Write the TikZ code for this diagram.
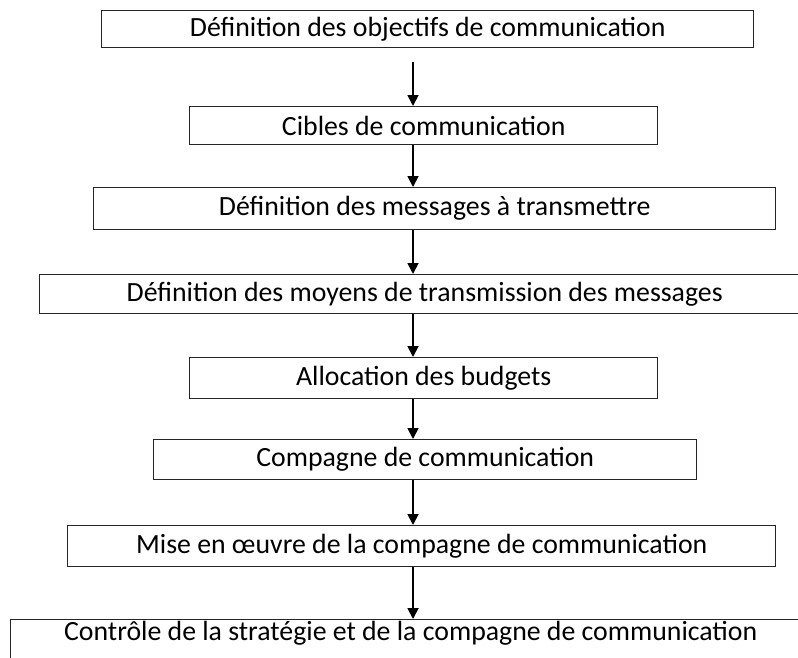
\documentclass[tikz,border=0pt]{standalone}
\usepackage{fontspec}
\setmainfont{Carlito}
\usetikzlibrary{arrows.meta}
\begin{document}
\begin{tikzpicture}[x=1pt,y=-1pt,
  box/.style={draw=black!85, line width=1.4pt, rectangle, inner sep=0pt,
    font=\fontsize{27.8}{30}\selectfont, anchor=north west},
  arr/.style={line width=1.8pt, -{Triangle[width=11pt,length=11pt]}}]
\useasboundingbox (0,0) rectangle (798,657);
\clip (0,0) rectangle (798,657);
\node[box, minimum width=652pt, minimum height=37pt] (b1) at (101,10) {Définition des objectifs de communication};
\node[box, minimum width=468pt, minimum height=38pt] (b2) at (189,106) {Cibles de communication};
\node[box, minimum width=682pt, minimum height=42pt] (b3) at (93,187) {Définition des messages à transmettre};
\node[box, minimum width=770pt, minimum height=39pt] (b4) at (39,274) {Définition des moyens de transmission des messages};
\node[box, minimum width=468pt, minimum height=41pt] (b5) at (189,357) {Allocation des budgets};
\node[box, minimum width=543pt, minimum height=40pt] (b6) at (153,439) {Compagne de communication};
\node[box, minimum width=708pt, minimum height=41pt] (b7) at (67,525) {Mise en œuvre de la compagne de communication};
\node[box, minimum width=800pt, text height=21pt, text depth=60pt] (b8) at (10,619) {Contrôle de la stratégie et de la compagne de communication};
\coordinate (s1) at (413,62);
\draw[arr] (s1) -- (b2.north -| s1);
\draw[arr] (b2.south -| s1) -- (b3.north -| s1);
\draw[arr] (b3.south -| s1) -- (b4.north -| s1);
\draw[arr] (b4.south -| s1) -- (b5.north -| s1);
\draw[arr] (b5.south -| s1) -- (b6.north -| s1);
\draw[arr] (b6.south -| s1) -- (b7.north -| s1);
\draw[arr] (b7.south -| s1) -- (b8.north -| s1);
\end{tikzpicture}
\end{document}
